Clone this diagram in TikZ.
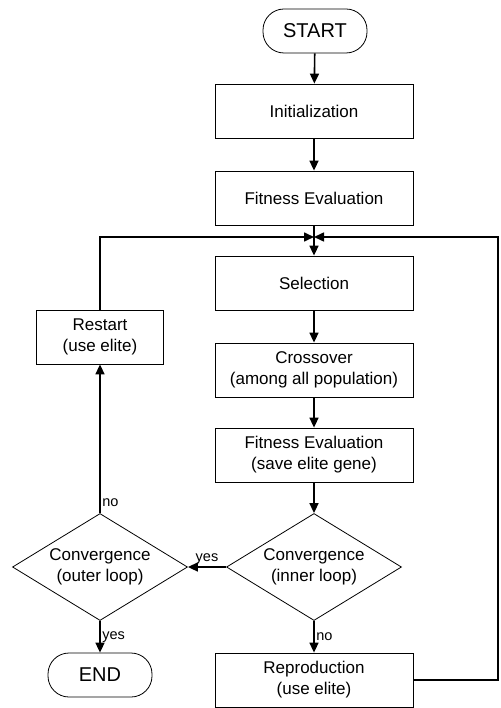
\documentclass[tikz,border=0pt]{standalone}
\usepackage{fontspec}
\setmainfont{Liberation Sans}
\usetikzlibrary{shapes,arrows.meta,positioning,calc}

\begin{document}
\begin{tikzpicture}[x=1pt, y=-1pt,
    blk/.style={draw, line width=0.8pt, minimum width=198pt, minimum height=54pt, align=center, font=\fontsize{17}{21}\selectfont},
    term/.style={draw, line width=0.8pt, rounded corners=21pt, minimum width=104pt, minimum height=44pt, font=\fontsize{20}{24}\selectfont},
    dec/.style={draw, diamond, aspect=1.64, line width=0.8pt, minimum width=175pt, minimum height=107pt, inner sep=0pt, align=center, font=\fontsize{17}{21}\selectfont},
    flow/.style={line width=1.6pt, -{Triangle[length=10pt, width=9pt]}},
    lbl/.style={font=\fontsize{14.5}{16}\selectfont, inner sep=1.5pt}]
    \useasboundingbox (0,0) rectangle (500,708);

    % main column
    \node[term] (start) at (315,31) {START};
    \node[blk] (init) at (314,111) {Initialization};
    \node[blk] (fit) at (314,198) {Fitness Evaluation};
    \coordinate (join) at (314,237);
    \node[blk] (sel) at (314,283) {Selection};
    \node[blk] (cross) at (314,370) {Crossover\\(among all population)};
    \node[blk] (fit2) at (314,455) {Fitness Evaluation\\(save elite gene)};
    \node[dec] (inner) at (314,567) {Convergence\\(inner loop)};
    \node[blk] (repro) at (314,680) {Reproduction\\(use elite)};

    % outer loop
    \node[blk, minimum width=127pt] (restart) at (100,337) {Restart\\(use elite)};
    \node[dec] (outer) at (100,567) {Convergence\\(outer loop)};
    \node[term] (end) at (100,675) {END};
    \coordinate (lc) at (100,237);
    \coordinate (rc) at (498,237);

    \draw[flow] (start) -- (init);
    \draw[flow] (init) -- (fit);
    \draw[flow] (fit) -- (sel);
    \draw[flow] (sel) -- (cross);
    \draw[flow] (cross) -- (fit2);
    \draw[flow] (fit2) -- (inner);
    \draw[flow] (inner) -- node[lbl, right] {no} (repro);
    \draw[flow] (inner) -- node[lbl, above] {yes} (outer);
    \draw[flow] (outer) -- node[lbl, right, pos=0.07] {no} (restart);
    \draw[flow] (outer) -- node[lbl, right] {yes} (end);
    \draw[flow] (restart) -- (lc) -- (join);
    \draw[flow] (repro.east) -| (rc) -- (join);
\end{tikzpicture}
\end{document}
